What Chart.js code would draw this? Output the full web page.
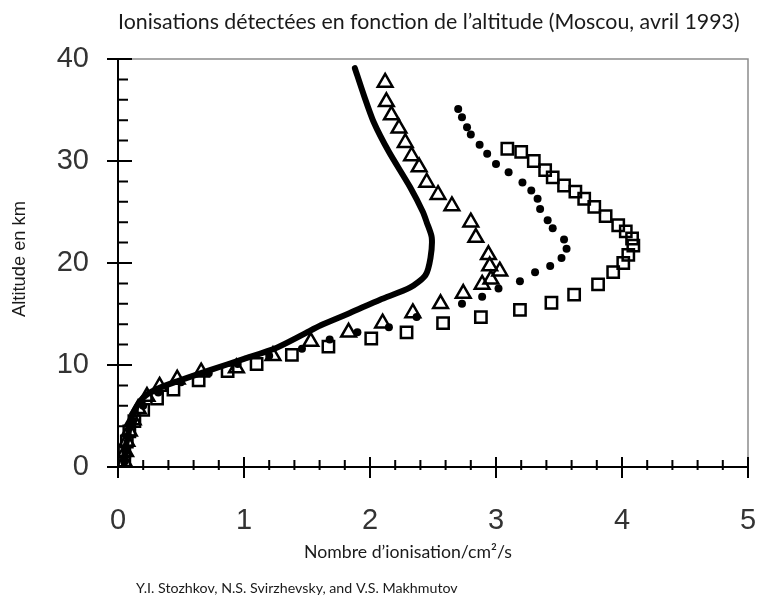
<!DOCTYPE html>
<html>
<head>
<meta charset="utf-8">
<script src="https://cdn.jsdelivr.net/npm/chart.js@4/dist/chart.umd.min.js"></script>
<style>
  body { margin: 0; background: #fff; }
  canvas { display: block; }
</style>
</head>
<body>
<canvas id="ionChart" width="759" height="606"></canvas>
<script>
// axes
const xTicks = [0, 1, 2, 3, 4, 5]
const yTicks = [0, 10, 20, 30, 40]

// courbe continue (trait épais)
const lineIon = [0.05, 0.05, 0.06, 0.08, 0.10, 0.13, 0.20, 0.30, 0.47, 0.73, 1.00, 1.26, 1.47, 1.61, 1.84, 2.08, 2.32, 2.44, 2.48, 2.49, 2.45, 2.42, 2.32, 2.15, 2.03, 1.95, 1.88]
const lineAlt = [0.0, 1.0, 2.0, 3.0, 4.5, 5.5, 6.8, 7.6, 8.4, 9.5, 10.6, 11.7, 13.0, 13.9, 15.1, 16.4, 17.6, 18.8, 20.5, 22.5, 24.0, 25.0, 27.4, 30.9, 33.8, 36.5, 39.1]

// triangles
const triIon = [0.05, 0.06, 0.07, 0.09, 0.12, 0.16, 0.23, 0.33, 0.47, 0.66, 0.94, 1.23, 1.53, 1.83, 2.10, 2.34, 2.56, 2.74, 2.89, 2.96, 3.03, 2.95, 2.94, 2.84, 2.80, 2.65, 2.54, 2.45, 2.39, 2.33, 2.28, 2.23, 2.17, 2.13, 2.12]
const triAlt = [0.5, 1.5, 2.5, 3.5, 4.6, 5.7, 6.9, 7.9, 8.6, 9.3, 9.7, 10.9, 12.3, 13.2, 14.1, 15.1, 16.0, 17.0, 17.9, 18.4, 19.2, 19.7, 20.8, 22.5, 24.0, 25.6, 26.7, 27.9, 29.4, 30.5, 31.8, 33.2, 34.5, 35.8, 37.7]

// points noirs
const dotIon = [0.05, 0.06, 0.08, 0.12, 0.20, 0.32, 0.50, 0.72, 0.95, 1.20, 1.46, 1.68, 1.90, 2.15, 2.37, 2.73, 2.89, 3.02, 3.19, 3.31, 3.43, 3.52, 3.56, 3.54, 3.45, 3.41, 3.35, 3.33, 3.28, 3.21, 3.10, 3.00, 2.93, 2.87, 2.80, 2.77, 2.73, 2.70]
const dotAlt = [0.5, 1.5, 3.0, 4.5, 6.0, 7.3, 8.3, 9.2, 10.1, 10.9, 11.6, 12.5, 13.2, 13.7, 14.7, 16.0, 16.7, 17.5, 18.2, 19.1, 19.7, 20.5, 21.4, 22.3, 23.4, 24.2, 25.3, 26.3, 27.1, 27.9, 28.9, 29.7, 30.7, 31.6, 32.6, 33.3, 34.3, 35.1]

// carrés
const sqIon = [0.05, 0.05, 0.07, 0.09, 0.13, 0.20, 0.31, 0.44, 0.64, 0.87, 1.10, 1.38, 1.67, 2.01, 2.29, 2.58, 2.88, 3.19, 3.44, 3.62, 3.81, 3.93, 4.01, 4.05, 4.09, 4.08, 4.03, 3.97, 3.87, 3.78, 3.70, 3.63, 3.54, 3.45, 3.39, 3.30, 3.20, 3.09]
const sqAlt = [0.5, 1.5, 2.5, 3.5, 4.5, 5.6, 6.7, 7.6, 8.5, 9.4, 10.1, 11.0, 11.8, 12.6, 13.2, 14.1, 14.7, 15.4, 16.1, 16.9, 17.9, 19.1, 20.0, 20.8, 21.7, 22.4, 23.1, 23.7, 24.6, 25.5, 26.3, 27.0, 27.6, 28.4, 29.1, 30.0, 30.9, 31.2]

const pts = (xs, ys) => xs.map((v, i) => ({ x: v, y: ys[i] }))

// texte ajusté à une largeur donnée
const fitText = (ctx, text, family, width, weight = '') => {
    ctx.font = `${weight} 20px ${family}`
    const size = 20 * width / ctx.measureText(text).width
    ctx.font = `${weight} ${size}px ${family}`
}

const frame = {
    id: 'frame',
    afterDraw(chart) {
        const { ctx, chartArea: a, scales: { x, y } } = chart
        ctx.save()

        ctx.strokeStyle = '#8c8c8c'
        ctx.lineWidth = 1.5
        ctx.beginPath()
        ctx.moveTo(a.left, a.top)
        ctx.lineTo(a.right, a.top)
        ctx.lineTo(a.right, a.bottom)
        ctx.stroke()

        ctx.strokeStyle = '#000'
        ctx.lineWidth = 2
        ctx.beginPath()
        ctx.moveTo(a.left, a.top)
        ctx.lineTo(a.left, a.bottom)
        ctx.lineTo(a.right, a.bottom)
        for (let i = 0; i <= 20; i++) {
            const py = y.getPixelForValue(i * 2)
            const major = i % 5 === 0
            ctx.moveTo(major ? a.left - 11 : a.left, py)
            ctx.lineTo(a.left + (major ? 14 : 10), py)
        }
        for (let i = 0; i <= 25; i++) {
            const px = x.getPixelForValue(i * 0.2)
            const major = i % 5 === 0
            ctx.moveTo(px, a.bottom + (major ? 11 : 3))
            ctx.lineTo(px, a.bottom - (major ? 10 : 7))
        }
        ctx.stroke()

        ctx.fillStyle = '#1a1a1a'
        ctx.textBaseline = 'middle'
        ctx.textAlign = 'left'
        const title = 'Ionisations détectées en fonction de l’altitude (Moscou, avril 1993)'
        fitText(ctx, title, 'Lato', 622)
        ctx.fillText(title, 118, 22)

        const xTitle = 'Nombre d’ionisation/cm²/s'
        fitText(ctx, xTitle, 'Lato', 208)
        ctx.fillText(xTitle, 304, 552)

        const credit = 'Y.I. Stozhkov, N.S. Svirzhevsky, and V.S. Makhmutov'
        fitText(ctx, credit, 'Lato', 322)
        ctx.fillText(credit, 136, 588)

        ctx.translate(20, 259)
        ctx.rotate(-Math.PI / 2)
        ctx.textAlign = 'center'
        const yTitle = 'Altitude en km'
        fitText(ctx, yTitle, 'Liberation Sans', 116)
        ctx.fillText(yTitle, 0, 0)

        ctx.restore()
    }
}

const ctx = document.getElementById('ionChart')
new Chart(ctx, {
    type: 'scatter',
    data: {
        datasets: [{
            label: 'courbe',
            data: pts(lineIon, lineAlt),
            showLine: true,
            borderColor: '#000',
            borderWidth: 6,
            borderJoinStyle: 'round',
            borderCapStyle: 'round',
            tension: 0.25,
            pointRadius: 0,
            order: 1
        }, {
            label: 'triangles',
            data: pts(triIon, triAlt),
            pointStyle: 'triangle',
            pointRadius: 8.5,
            borderColor: '#000',
            borderWidth: 2.5,
            backgroundColor: 'rgba(0,0,0,0)',
            order: 2
        }, {
            label: 'points',
            data: pts(dotIon, dotAlt),
            pointStyle: 'circle',
            pointRadius: 4,
            borderWidth: 0,
            backgroundColor: '#000',
            order: 3
        }, {
            label: 'carrés',
            data: pts(sqIon, sqAlt),
            pointStyle: 'rect',
            pointRadius: 8,
            borderColor: '#000',
            borderWidth: 2.5,
            backgroundColor: 'rgba(0,0,0,0)',
            order: 4
        }]
    },
    options: {
        responsive: false,
        animation: false,
        layout: { padding: { top: 59, right: 11, left: 0, bottom: 0 } },
        plugins: {
            legend: { display: false },
            tooltip: { enabled: false }
        },
        scales: {
            x: {
                min: xTicks[0],
                max: xTicks[xTicks.length - 1],
                afterBuildTicks: s => { s.ticks = xTicks.map(v => ({ value: v })) },
                afterFit: s => {
                    s.height = 139
                    s.paddingLeft = 0
                    s.paddingRight = 0
                },
                grid: { display: false, drawTicks: false },
                border: { display: false },
                ticks: {
                    padding: 37,
                    color: '#333',
                    font: { family: 'Liberation Sans', size: 29 },
                    maxRotation: 0
                }
            },
            y: {
                min: yTicks[0],
                max: yTicks[yTicks.length - 1],
                afterBuildTicks: s => { s.ticks = yTicks.map(v => ({ value: v })) },
                afterFit: s => {
                    s.width = 118
                    s.paddingTop = 0
                    s.paddingBottom = 0
                },
                grid: { display: false, drawTicks: false },
                border: { display: false },
                ticks: {
                    padding: 29,
                    color: '#333',
                    font: { family: 'Liberation Sans', size: 29 }
                }
            }
        }
    },
    plugins: [frame]
})
</script>
</body>
</html>
